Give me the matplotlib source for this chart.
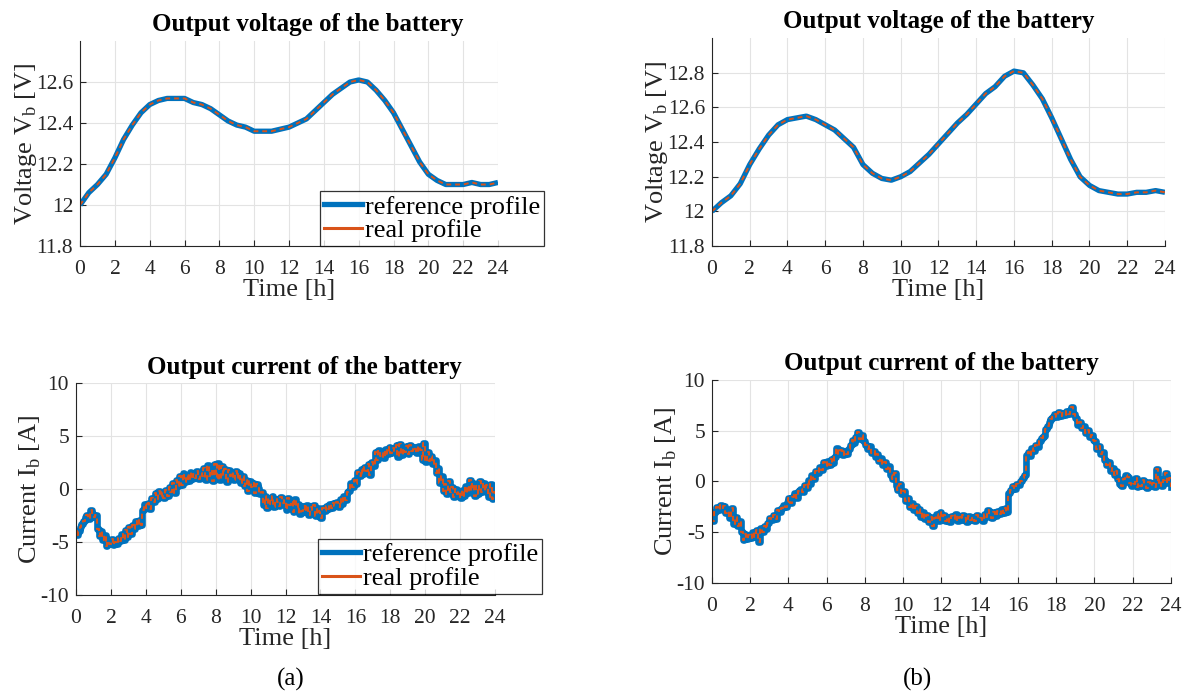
import numpy as np
import matplotlib.pyplot as plt
from matplotlib.lines import Line2D

plt.rcParams['font.family'] = ['Liberation Serif', 'DejaVu Serif']
plt.rcParams['mathtext.fontset'] = 'custom'
plt.rcParams['mathtext.rm'] = 'Liberation Serif'
plt.rcParams['axes.unicode_minus'] = False

blue = '#0072BD'
orange = '#D95319'
txt = '#262626'

# voltage, sampled every 0.5 h
t_v = np.arange(0, 24.01, 0.5)
v_a = [12.00, 12.06, 12.10, 12.15, 12.23, 12.32, 12.39, 12.45, 12.49, 12.51,
       12.52, 12.52, 12.52, 12.50, 12.49, 12.47, 12.44, 12.41, 12.39, 12.38,
       12.36, 12.36, 12.36, 12.37, 12.38, 12.40, 12.42, 12.46, 12.50, 12.54,
       12.57, 12.60, 12.61, 12.60, 12.56, 12.51, 12.45, 12.37, 12.29, 12.21,
       12.15, 12.12, 12.10, 12.10, 12.10, 12.11, 12.10, 12.10, 12.11]
v_b = [12.00, 12.05, 12.09, 12.16, 12.27, 12.36, 12.44, 12.50, 12.53, 12.54,
       12.55, 12.53, 12.50, 12.47, 12.42, 12.37, 12.27, 12.22, 12.19, 12.18,
       12.20, 12.23, 12.28, 12.33, 12.39, 12.45, 12.51, 12.56, 12.62, 12.68,
       12.72, 12.78, 12.81, 12.80, 12.73, 12.65, 12.54, 12.42, 12.30, 12.20,
       12.15, 12.12, 12.11, 12.10, 12.10, 12.11, 12.11, 12.12, 12.11]

# current, sampled every 0.1 h
t_i = np.arange(0, 24.001, 0.1)
i_a = [-4.3, -4.0, -3.6, -3.3, -3.0, -2.6, -2.4, -2.8, -2.0, -2.3,
       -2.6, -2.4, -3.8, -4.4, -4.0, -4.8, -4.3, -5.4, -4.9, -5.2,
       -4.7, -5.3, -5.0, -5.2, -4.6, -4.9, -4.2, -4.8, -3.9, -4.5,
       -3.6, -4.2, -3.4, -3.8, -3.0, -3.5, -2.9, -3.4, -2.0, -1.4,
       -1.8, -1.3, -1.9, -0.8, -1.2, -0.4, -0.9, -0.2, -0.7, -0.3,
       -0.8, -0.1, -0.6, 0.2, -0.3, 0.6, -0.4, 0.9, 0.3, 1.2,
       0.4, 1.5, 0.7, 1.3, 0.8, 1.6, 1.0, 1.4, 1.1, 1.7,
       1.0, 1.5, 1.2, 2.0, 0.9, 2.3, 1.2, 1.8, 0.8, 2.4,
       1.1, 2.5, 0.9, 2.2, 1.3, 1.9, 0.7, 1.8, 1.2, 1.6,
       0.9, 1.7, 1.1, 1.5, 0.6, 1.2, 0.3, 0.9, -0.2, 0.8,
       0.2, 0.6, -0.4, 0.5, 0.1, -0.5, -0.3, -1.5, -0.6, -1.8,
       -0.8, -1.4, -0.6, -1.7, -0.9, -1.2, -1.6, -0.7, -1.3, -1.0,
       -2.0, -0.8, -1.5, -1.1, -2.2, -0.9, -1.8, -1.4, -2.3, -2.1,
       -1.6, -2.2, -1.5, -2.4, -1.7, -2.0, -1.5, -2.5, -1.8, -2.2,
       -2.7, -1.8, -2.1, -1.6, -1.9, -1.4, -1.8, -1.3, -1.6, -1.2,
       -1.7, -0.9, -1.4, -0.6, -1.0, -0.3, -0.2, 0.6, 0.2, 0.9,
       0.5, 1.6, 1.2, 1.9, 1.4, 2.1, 1.7, 2.4, 1.3, 2.6,
       2.2, 3.5, 2.8, 3.7, 3.1, 3.4, 2.9, 3.8, 3.3, 4.0,
       3.4, 3.9, 3.6, 4.2, 3.0, 4.3, 3.2, 3.9, 3.5, 4.1,
       3.3, 4.2, 3.6, 4.0, 3.8, 3.4, 4.1, 3.7, 2.8, 4.4,
       2.6, 3.5, 2.7, 3.1, 2.4, 2.8, 1.5, 2.0, 0.6, 1.2,
       -0.2, 0.5, -0.5, 0.8, -0.3, 0.2, -0.7, 0.0, -0.5, -0.2,
       -0.8, -0.1, -0.6, 0.3, -0.4, 0.9, -0.2, 0.6, -0.6, 0.3,
       -0.5, 0.8, -0.3, 0.6, -0.2, 0.4, -0.7, 0.5, -0.9, -0.3,
       -0.5]
i_b = [-3.9, -3.0, -2.5, -2.8, -2.3, -2.6, -2.4, -3.1, -2.9, -3.6,
       -2.6, -4.2, -3.5, -4.4, -3.9, -5.0, -5.8, -5.2, -5.7, -5.3,
       -5.6, -5.0, -5.5, -4.8, -6.0, -4.6, -5.0, -4.4, -4.7, -4.1,
       -3.6, -3.8, -3.3, -3.7, -2.8, -3.0, -2.6, -2.3, -2.5, -2.0,
       -1.6, -2.1, -1.5, -1.2, -1.6, -1.0, -0.8, -1.1, -0.4, -0.7,
       0.1, -0.3, 0.6, 0.2, 1.0, 0.8, 1.4, 1.1, 1.9, 1.5,
       2.0, 1.6, 2.2, 1.8, 2.4, 3.3, 2.7, 3.1, 2.6, 3.0,
       2.7, 3.2, 3.6, 4.1, 3.8, 4.4, 4.9, 4.2, 4.6, 4.0,
       3.6, 3.2, 3.5, 2.8, 3.0, 2.4, 2.7, 2.0, 2.3, 1.6,
       1.9, 1.2, 1.5, 0.6, 0.2, 0.8, -0.5, -0.9, -0.3, -1.3,
       -1.0, -1.9, -1.6, -2.5, -2.1, -2.8, -2.4, -3.1, -2.7, -3.5,
       -3.0, -3.7, -3.3, -4.0, -3.5, -4.4, -3.6, -3.2, -3.9, -3.0,
       -3.6, -3.3, -3.9, -3.5, -4.0, -3.4, -3.7, -3.2, -3.9, -3.5,
       -3.8, -3.3, -3.6, -4.0, -3.4, -3.8, -3.5, -3.9, -3.3, -3.7,
       -3.6, -3.9, -3.2, -3.5, -2.8, -3.3, -3.6, -3.0, -3.4, -2.9,
       -3.2, -2.7, -3.1, -2.6, -3.0, -1.2, -0.9, -0.5, -0.8, -0.3,
       -0.4, 0.0, 0.3, 0.6, 2.6, 2.9, 2.5, 3.3, 3.0, 3.6,
       3.4, 4.0, 4.3, 4.5, 5.2, 5.5, 5.9, 6.1, 6.3, 6.6,
       6.3, 6.8, 6.4, 6.7, 6.5, 6.9, 6.6, 7.0, 7.3, 6.6,
       6.2, 5.6, 5.9, 5.3, 5.5, 4.8, 5.1, 4.4, 4.6, 4.1,
       4.0, 3.2, 3.5, 2.7, 2.9, 2.1, 1.6, 1.9, 1.0, 1.3,
       0.6, 1.0, 0.2, -0.3, -0.5, 0.2, 0.6, 0.4, -0.2, -0.5,
       -0.3, 0.3, -0.6, -0.2, -0.5, 0.1, -0.4, -0.7, -0.1, -0.5,
       -0.2, -0.6, 1.2, -0.3, 0.2, -0.5, 0.1, 0.8, -0.2, 0.3,
       -0.6]
i_start = 0.0  # measured current starts from zero

fig = plt.figure(figsize=(11.86, 6.93), dpi=100)

ax_va = fig.add_axes([0.0675, 0.645, 0.3524, 0.2958])
ax_vb = fig.add_axes([0.6003, 0.645, 0.3820, 0.2999])
ax_ia = fig.add_axes([0.0641, 0.1414, 0.3533, 0.3055])
ax_ib = fig.add_axes([0.6003, 0.1592, 0.3870, 0.2925])


def style(ax, yl, yticks, ylabel, title, title_x=0.5):
    ax.set_xlim(0, 24)
    ax.set_ylim(*yl)
    ax.set_xticks(np.arange(0, 25, 2))
    ax.set_yticks(yticks)
    ax.grid(True, color='#e3e3e3', lw=0.8)
    ax.set_axisbelow(True)
    for s in ['top', 'right']:
        ax.spines[s].set_visible(False)
    for s in ['left', 'bottom']:
        ax.spines[s].set_color(txt)
        ax.spines[s].set_linewidth(0.8)
    ax.tick_params(direction='in', length=4, width=0.8, colors=txt,
                   labelsize=15.5)
    ax.tick_params(axis='x', pad=10)
    ax.tick_params(axis='y', pad=5)
    ax.set_xlabel('Time [h]', fontsize=19, color=txt, labelpad=0)
    ax.set_ylabel(ylabel, fontsize=19, color=txt, labelpad=-2)
    ax.set_title(title, fontsize=18, fontweight='bold', pad=7, x=title_x)


def fmt_v(v):
    return '12' if abs(v - 12) < 1e-9 else f'{v:.1f}'


for ax, v in [(ax_va, v_a), (ax_vb, v_b)]:
    ax.plot(t_v, v, color=blue, lw=3.8, solid_capstyle='butt')
    ax.plot(t_v, v, color=orange, lw=1.4, ls=(0, (2.5, 2)))

style(ax_va, (11.8, 12.8), np.arange(11.8, 12.61, 0.2),
      r'Voltage V$_\mathrm{b}$ [V]', 'Output voltage of the battery', 0.545)
style(ax_vb, (11.8, 13.0), np.arange(11.8, 12.81, 0.2),
      r'Voltage V$_\mathrm{b}$ [V]', 'Output voltage of the battery')
for ax in (ax_va, ax_vb):
    ax.set_yticklabels([fmt_v(v) for v in ax.get_yticks()])

for ax, cur, tx in [(ax_ia, i_a, 0.545), (ax_ib, i_b, 0.5)]:
    ax.plot(t_i, cur, color=blue, lw=4.8, drawstyle='steps-post')
    ax.plot(np.concatenate(([0.0], t_i)), np.concatenate(([i_start], cur)),
            color=orange, lw=1.5, ls=(0, (2.5, 2)), drawstyle='steps-post')
    style(ax, (-10, 10), [-10, -5, 0, 5, 10],
          r'Current I$_\mathrm{b}$ [A]', 'Output current of the battery', tx)

handles = [Line2D([], [], color=blue, lw=3.8),
           Line2D([], [], color=orange, lw=2.2)]
labels = ['reference profile', 'real profile']
for anchor in [(0.270, 0.645), (0.268, 0.143)]:
    leg = fig.legend(handles, labels, loc='lower left', bbox_to_anchor=anchor,
                     fontsize=19, frameon=True, fancybox=False,
                     handlelength=1.45, handletextpad=0.1, borderpad=0.15,
                     labelspacing=0.0, borderaxespad=0)
    leg.get_frame().set_edgecolor('black')
    leg.get_frame().set_linewidth(0.9)

fig.text(0.2454, 0.019, '(a)', ha='center', va='center', fontsize=18)
fig.text(0.7740, 0.019, '(b)', ha='center', va='center', fontsize=18)

fig.savefig('out.png', dpi=100, facecolor='white')
